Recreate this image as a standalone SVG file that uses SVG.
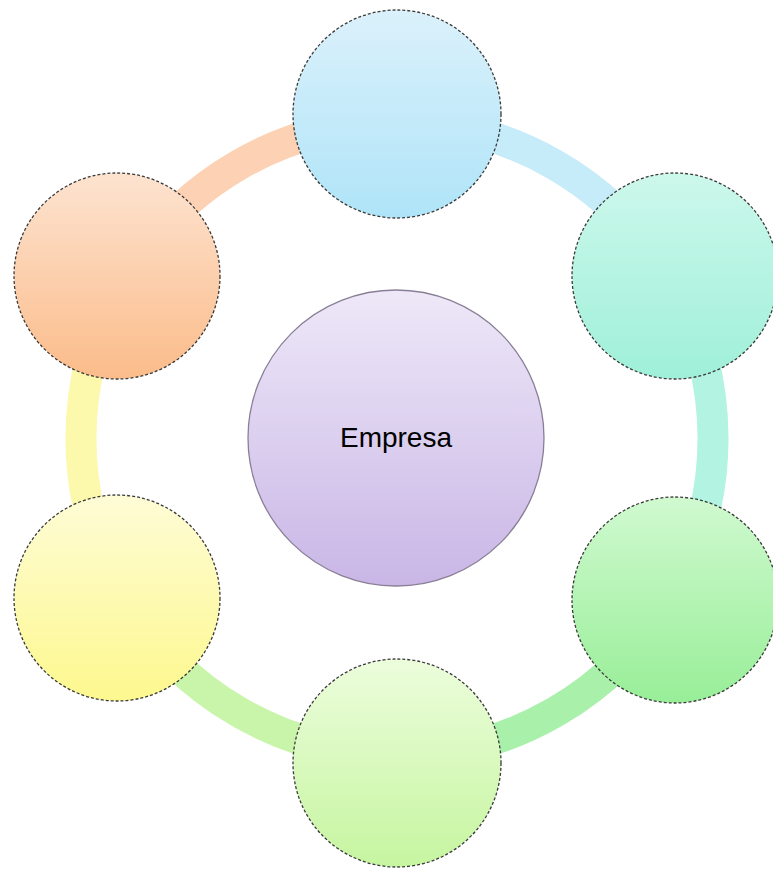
<svg xmlns="http://www.w3.org/2000/svg" width="773" height="869" viewBox="0 0 773 869">
  <style>
    .node { stroke: #3a3a3a; stroke-width: 1.3; stroke-dasharray: 3 2; }
    .seg { fill: none; stroke-width: 31; stroke-linecap: butt; }
    .label { font-family: "Liberation Sans", Arial, sans-serif; font-size: 28px; fill: #000; text-anchor: middle; }
  </style>
  <defs>
    <linearGradient id="gBlue" x1="0" y1="0" x2="0" y2="1"><stop offset="0" stop-color="#dbf1fb"/><stop offset="1" stop-color="#afe4f8"/></linearGradient>
    <linearGradient id="gTeal" x1="0" y1="0" x2="0" y2="1"><stop offset="0" stop-color="#cdf8ec"/><stop offset="1" stop-color="#9ff0d8"/></linearGradient>
    <linearGradient id="gGreen" x1="0" y1="0" x2="0" y2="1"><stop offset="0" stop-color="#d0f9d0"/><stop offset="1" stop-color="#98ee98"/></linearGradient>
    <linearGradient id="gLime" x1="0" y1="0" x2="0" y2="1"><stop offset="0" stop-color="#ecfddc"/><stop offset="1" stop-color="#c6f5a0"/></linearGradient>
    <linearGradient id="gYellow" x1="0" y1="0" x2="0" y2="1"><stop offset="0" stop-color="#fefcd6"/><stop offset="1" stop-color="#fdf88e"/></linearGradient>
    <linearGradient id="gPeach" x1="0" y1="0" x2="0" y2="1"><stop offset="0" stop-color="#fde3d0"/><stop offset="1" stop-color="#fbbc8a"/></linearGradient>
    <linearGradient id="gPurple" x1="0" y1="0" x2="0" y2="1"><stop offset="0" stop-color="#eee8f8"/><stop offset="1" stop-color="#c9b6e6"/></linearGradient>
  </defs>
  <rect width="773" height="869" fill="#ffffff"/>
  <g id="connectors">
    <path class="seg" stroke="#c6ebf9" d="M 397 122.5 A 316 316 0 0 1 670.7 280.5"/>
    <path class="seg" stroke="#b2f3e2" d="M 670.7 280.5 A 316 316 0 0 1 670.7 596.5"/>
    <path class="seg" stroke="#a9f0ab" d="M 670.7 596.5 A 316 316 0 0 1 397 754.5"/>
    <path class="seg" stroke="#c8f5aa" d="M 397 754.5 A 316 316 0 0 1 123.3 596.5"/>
    <path class="seg" stroke="#fcf8ac" d="M 123.3 596.5 A 316 316 0 0 1 123.3 280.5"/>
    <path class="seg" stroke="#fdd2b4" d="M 123.3 280.5 A 316 316 0 0 1 397 122.5"/>
  </g>
  <g id="node-top"><circle class="node" cx="397" cy="114" r="104" fill="url(#gBlue)"/></g>
  <g id="node-right-top"><circle class="node" cx="675" cy="276" r="103" fill="url(#gTeal)"/></g>
  <g id="node-right-bottom"><circle class="node" cx="675" cy="600" r="103" fill="url(#gGreen)"/></g>
  <g id="node-bottom"><circle class="node" cx="397" cy="763" r="104" fill="url(#gLime)"/></g>
  <g id="node-left-bottom"><circle class="node" cx="117" cy="598" r="103" fill="url(#gYellow)"/></g>
  <g id="node-left-top"><circle class="node" cx="117" cy="276" r="103" fill="url(#gPeach)"/></g>
  <g id="node-center">
    <circle cx="396" cy="438" r="148" fill="url(#gPurple)" stroke="#8a7f96" stroke-width="1.3"/>
    <text class="label" x="396" y="447">Empresa</text>
  </g>
</svg>
